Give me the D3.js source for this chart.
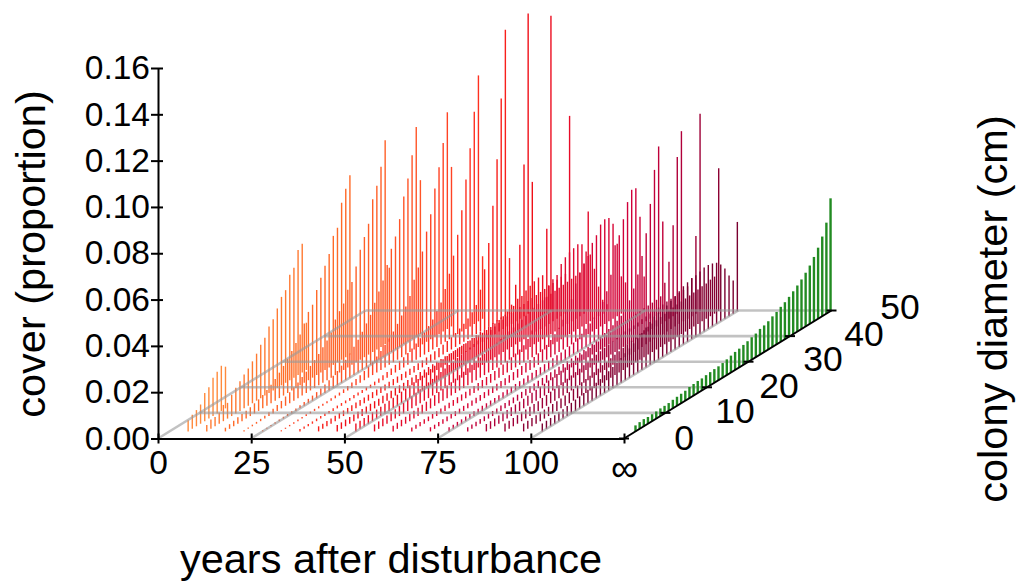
<!DOCTYPE html>
<html>
<head>
<meta charset="utf-8">
<style>
  body { margin: 0; background: #fff; }
  text { font-family: "Liberation Sans", Arial, sans-serif; fill: #000; }
</style>
<script src="https://cdn.jsdelivr.net/npm/d3@7"></script>
</head>
<body>
<svg id="chart" width="1018" height="581"></svg>
<script>
// years after disturbance, one row of bars for each
const years = [5, 10, 15, 20, 25, 30, 35, 40, 45, 50, 55, 60, 65, 70, 75, 80, 85, 90, 95, 100];

// cover per 1 cm diameter class, smallest class first
const cover5 = [.0048,.0061,.007,.0083,.0122,.0135,.0165,.018,.0195,.018];
const cover10 = [.0028,.004,.004,.0048,.007,.0068,.0092,.0111,.0128,.0146,.0161,.0181,.0203,.0231,.025,.0287,.0307,.0343,.0382,.04,.0455,.0475,.054,.0556,.0204];
const cover15 = [.0016,.002,.0024,.0028,.0031,.0034,.0038,.0044,.005,.0058,.0068,.008,.0094,.011,.0128,.0148,.017,.0194,.022,.0256,.0295,.0315,.0367,.0409,.045,.049,.0557,.0581,.0678,.0727,.0775];
const cover20 = [.0005,.0006,.0007,.0008,.001,.0012,.0016,.002,.0026,.0032,.004,.0048,.0058,.0068,.008,.0092,.0106,.012,.0135,.0153,.0172,.0195,.024,.0265,.0287,.0335,.0358,.0414,.0475,.0519,.0565,.066,.0707,.0778,.0882,.032];
const cover25 = [.0005,.0005,.0006,.0006,.0007,.0008,.0009,.001,.0011,.0013,.0016,.0019,.0022,.0026,.0031,.0037,.0044,.0052,.0062,.0074,.0088,.0104,.0122,.0142,.0165,.019,.0216,.0257,.0295,.0331,.0387,.0446,.0488,.0552,.0639,.0705,.0795,.0906,.0665];
const cover30 = [.0005,.0005,.0006,.0006,.0007,.0007,.0008,.0008,.0009,.0009,.0009,.0009,.001,.0011,.0013,.0016,.0019,.0023,.0027,.0033,.004,.0048,.0058,.0069,.0082,.0097,.0114,.0133,.0155,.018,.0208,.0242,.0301,.0343,.0401,.0476,.054,.064,.0721,.0814,.0936,.0689];
const cover35 = [.001,.001,.001,.001,.0011,.0011,.0011,.0011,.0012,.0012,.0012,.0012,.0012,.0013,.0013,.0013,.0013,.0014,.0016,.0018,.0021,.0024,.0028,.0033,.0038,.0044,.0051,.006,.007,.0082,.0096,.0112,.013,.0155,.0181,.0228,.0283,.035,.0429,.0524,.0646,.077,.0916,.1062,.027];
const cover40 = [.0022,.0022,.0023,.0023,.0023,.0024,.0024,.0024,.0025,.0025,.0025,.0025,.0026,.0026,.0026,.0026,.0026,.0027,.0027,.0027,.0027,.0027,.0027,.0028,.0029,.003,.0032,.0034,.0037,.004,.0043,.0048,.0053,.006,.0068,.0078,.009,.0105,.0126,.0181,.0258,.036,.051,.07,.0951,.1237,.024];
const cover45 = [.0028,.0028,.0029,.0029,.0029,.003,.003,.003,.0031,.0031,.0031,.0032,.0032,.0032,.0033,.0033,.0033,.0034,.0034,.0034,.0035,.0035,.0035,.0036,.0036,.0036,.0037,.0037,.0037,.0038,.0038,.0038,.0039,.0039,.0039,.0039,.004,.0042,.0046,.005,.0055,.0065,.0083,.0158,.032,.0655,.1296,.0558];
const cover50 = [.0034,.0035,.0036,.0037,.0038,.0039,.004,.0042,.0044,.0046,.0048,.005,.0052,.0055,.0058,.0061,.0064,.0067,.007,.0073,.0076,.0079,.0082,.0084,.0086,.0088,.009,.0092,.0094,.0096,.0098,.0099,.01,.0102,.0104,.0105,.0106,.0108,.0122,.0142,.0143,.0155,.0165,.0173,.0178,.0177,.0367,.1275];
const cover55 = [.003,.0032,.0034,.0036,.0038,.004,.0043,.0046,.0049,.0052,.0056,.006,.0064,.0068,.0072,.0076,.008,.0084,.0088,.0092,.0096,.01,.0104,.0108,.0112,.0116,.012,.0124,.0128,.0132,.0136,.014,.0143,.0146,.0148,.015,.0152,.0154,.0156,.0158,.016,.0162,.0164,.0166,.0168,.017,.0172,.0843];
const cover60 = [.0024,.0026,.0028,.003,.0032,.0034,.0036,.0038,.004,.0043,.0046,.0049,.0052,.0055,.0058,.0062,.0066,.007,.0074,.0078,.0082,.0087,.0092,.0097,.0102,.0107,.0112,.0117,.0122,.0128,.0134,.014,.0146,.0152,.0158,.0163,.0168,.0172,.0174,.0176,.0178,.018,.0182,.0184,.0186,.0188,.0215,.043];
const cover65 = [.0017,.0018,.0018,.0019,.002,.002,.0021,.0022,.0023,.0024,.0025,.0026,.0027,.0028,.0029,.003,.0032,.0034,.0036,.0038,.004,.0043,.0046,.005,.0055,.006,.0066,.0074,.009,.0115,.0145,.018,.0225,.0266,.0281,.0288,.0325,.0343,.0353,.036,.0366,.0355,.0313,.0289,.0216,.0128,.006,.003];
const cover70 = [.0018,.0018,.0019,.0019,.002,.002,.0021,.0021,.0022,.0022,.0023,.0024,.0025,.0026,.0027,.0028,.0029,.003,.0031,.0033,.0035,.0037,.0039,.0041,.0043,.0045,.005,.0056,.0064,.0074,.0088,.0105,.0128,.016,.0195,.0252,.0288,.0316,.0337,.0383,.0405,.044,.0452,.0446,.041,.0313,.0161,.0124];
const cover75 = [.0018,.0018,.0019,.0019,.002,.002,.0021,.0021,.0022,.0022,.0023,.0023,.0024,.0025,.0026,.0027,.0028,.0029,.003,.0031,.0032,.0033,.0034,.0036,.0038,.004,.0041,.0042,.0044,.0047,.0052,.006,.0068,.0078,.009,.0105,.0125,.015,.0185,.0245,.0362,.0394,.0452,.0515,.0557,.0553,.0418,.0149];
const cover80 = [.0018,.0019,.002,.002,.0021,.0021,.0022,.0022,.0023,.0023,.0024,.0025,.0026,.0027,.0028,.0029,.003,.0031,.0032,.0033,.0034,.0035,.0036,.0037,.0038,.0039,.004,.0041,.0042,.0044,.0046,.005,.0055,.006,.0066,.0072,.008,.009,.0105,.0135,.0175,.0224,.0293,.038,.0496,.0632,.0722,.0387];
const cover85 = [.0032,.0033,.0034,.0035,.0036,.0037,.0038,.0039,.004,.0041,.0043,.0045,.0047,.0049,.0051,.0054,.0057,.006,.0063,.0066,.0069,.0072,.0075,.0078,.0081,.0084,.0087,.009,.0093,.0096,.0098,.01,.0102,.0104,.0106,.0108,.011,.0111,.0112,.0113,.0114,.0115,.0119,.0167,.0246,.0393,.0677,.0777];
const cover90 = [.0034,.0035,.0036,.0037,.0038,.0039,.004,.0041,.0042,.0045,.0047,.005,.0052,.0055,.0058,.0062,.0065,.0068,.0072,.0076,.008,.0084,.0088,.0092,.0096,.0099,.0102,.0105,.0108,.0111,.0113,.0115,.0117,.0119,.012,.0122,.0124,.0126,.0128,.013,.0131,.0132,.0134,.0136,.014,.0165,.0335,.0852];
const cover95 = [.0034,.0035,.0036,.0037,.0038,.0039,.004,.0041,.0042,.0043,.0045,.0048,.0051,.0054,.0057,.006,.0064,.0068,.0072,.0076,.008,.0084,.0088,.0092,.0096,.01,.0104,.0108,.0112,.0116,.012,.0123,.0126,.0129,.0132,.0135,.0137,.0139,.0141,.0143,.0145,.0147,.0149,.0151,.0152,.0158,.016,.0617];
const cover100 = [.0034,.0035,.0036,.0037,.0038,.004,.0043,.0046,.0049,.0052,.0055,.0058,.0061,.0066,.0071,.0077,.0083,.009,.0098,.0107,.0116,.0126,.0137,.0148,.016,.0172,.0185,.0198,.0203,.0208,.0212,.0222,.0229,.024,.0251,.0257,.0263,.0265,.0271,.0277,.0276,.0272,.0264,.0245,.0217,.0176,.0143,.0385];
// the green row at the far end of the time axis
const coverInfinity = [.0026,.0029,.0031,.0029,.003,.0031,.0033,.0033,.0034,.0037,.0039,.0041,.0043,.0048,.005,.0052,.0052,.0055,.0057,.0059,.006,.0063,.0068,.0073,.0078,.0081,.0086,.0091,.0097,.0102,.0111,.0115,.0122,.0132,.014,.0151,.016,.0172,.0185,.0199,.0214,.0232,.0252,.0278,.0307,.0344,.0393,.0487];

const rows = [cover5, cover10, cover15, cover20, cover25, cover30, cover35, cover40, cover45, cover50,
  cover55, cover60, cover65, cover70, cover75, cover80, cover85, cover90, cover95, cover100];

const coverTicks = [0, .02, .04, .06, .08, .1, .12, .14, .16];
const yearTicks = [0, 25, 50, 75, 100];
const diameterTicks = [0, 10, 20, 30, 40, 50];
const yearInfinity = 125;
const firstDiameter = 2.77;

const svg = d3.select("#chart");

// the floor is sheared: diameter moves a point right and up
const x = d3.scaleLinear().domain([0, yearInfinity]).range([158, 624]);
const y = d3.scaleLinear().domain([0, .16]).range([438.5, 68]);
const depthX = d3.scaleLinear().domain([0, 50]).range([0, 207.5]);
const depthY = d3.scaleLinear().domain([0, 50]).range([0, -128]);
const color = d3.scaleLinear()
  .domain([5, 15, 25, 35, 45, 55, 65, 75, 85, 100])
  .range(["#ff8a3c", "#ff6a28", "#ff5528", "#ff3020", "#f01018", "#e80c28", "#e00a30", "#d0003a", "#b0003a", "#7a0030"]);

function floorX(year, diameter) { return x(year) + depthX(diameter); }
function floorY(diameter) { return y(0) + depthY(diameter); }

function drawRow(values, year, stroke, width) {
  svg.append("g").selectAll("line")
    .data(values)
    .join("line")
    .attr("x1", (d, i) => floorX(year, firstDiameter + i))
    .attr("x2", (d, i) => floorX(year, firstDiameter + i))
    .attr("y1", (d, i) => floorY(firstDiameter + i))
    .attr("y2", (d, i) => floorY(firstDiameter + i) - (y(0) - y(d)))
    .attr("stroke", stroke)
    .attr("stroke-width", width);
}

rows.forEach((values, k) => drawRow(values, years[k], color(years[k]), 1.4));

// grid on the floor, over the bars
const grid = svg.append("g")
  .attr("stroke", "#999")
  .attr("stroke-width", 2.6)
  .attr("stroke-opacity", .6);
grid.selectAll(".along")
  .data(yearTicks)
  .join("line")
  .attr("x1", d => x(d))
  .attr("y1", y(0))
  .attr("x2", d => floorX(d, 50))
  .attr("y2", floorY(50));
grid.selectAll(".across")
  .data(diameterTicks.slice(1))
  .join("line")
  .attr("x1", d => floorX(0, d))
  .attr("y1", d => floorY(d))
  .attr("x2", d => floorX(yearInfinity, d))
  .attr("y2", d => floorY(d));

drawRow(coverInfinity, yearInfinity, "#228b22", 2.4);

// axes
const yAxis = svg.append("g")
  .attr("transform", "translate(" + x(0) + ",0)")
  .call(d3.axisLeft(y).tickValues(coverTicks).tickFormat(d3.format(".2f")).tickSizeInner(7).tickSizeOuter(0).tickPadding(1));
yAxis.selectAll(".tick line").attr("x2", -7).attr("x1", 5);

const xAxis = svg.append("g")
  .attr("transform", "translate(0," + y(0) + ")")
  .call(d3.axisBottom(x)
    .tickValues(yearTicks.concat([yearInfinity]))
    .tickFormat(d => d === yearInfinity ? "∞" : d)
    .tickSizeInner(5).tickSizeOuter(0).tickPadding(7));
xAxis.selectAll(".tick line").attr("y1", -5);

[yAxis, xAxis].forEach(a => {
  a.selectAll("path, .tick line").attr("stroke", "#000").attr("stroke-width", 2);
  a.selectAll("text").style("font-size", "33.5px");
});
xAxis.selectAll(".tick").filter(d => d === yearInfinity).select("text")
  .attr("dy", "0.8em")
  .style("font-size", "38px");

const depthAxis = svg.append("g").attr("stroke", "#000").attr("stroke-width", 2);
depthAxis.append("line")
  .attr("x1", floorX(yearInfinity, 0))
  .attr("y1", floorY(0))
  .attr("x2", floorX(yearInfinity, 50))
  .attr("y2", floorY(50));
depthAxis.selectAll(".tick")
  .data(diameterTicks)
  .join("line")
  .attr("x1", d => floorX(yearInfinity, d) - 5)
  .attr("x2", d => floorX(yearInfinity, d) + 5)
  .attr("y1", d => floorY(d))
  .attr("y2", d => floorY(d));

// these labels were placed by hand in the original, so each has its own offset
const labelDx = [60, 69.5, 72, 74.5, 74, 68.5];
const labelDy = [11, 10, 11, 9, 10, 8.5];
svg.append("g").selectAll("text")
  .data(diameterTicks)
  .join("text")
  .attr("x", (d, i) => floorX(yearInfinity, d) + labelDx[i])
  .attr("y", (d, i) => floorY(d) + labelDy[i])
  .attr("text-anchor", "middle")
  .style("font-size", "35.5px")
  .text(d => d);

// axis titles
svg.append("text")
  .attr("x", 391)
  .attr("y", 573)
  .attr("text-anchor", "middle")
  .style("font-size", "41.5px")
  .text("years after disturbance");
svg.append("text")
  .attr("transform", "translate(45,254) rotate(-90)")
  .attr("text-anchor", "middle")
  .style("font-size", "41.5px")
  .text("cover (proportion)");
svg.append("text")
  .attr("transform", "translate(1007,309) rotate(-90)")
  .attr("text-anchor", "middle")
  .style("font-size", "41.5px")
  .text("colony diameter (cm)");
</script>
</body>
</html>
